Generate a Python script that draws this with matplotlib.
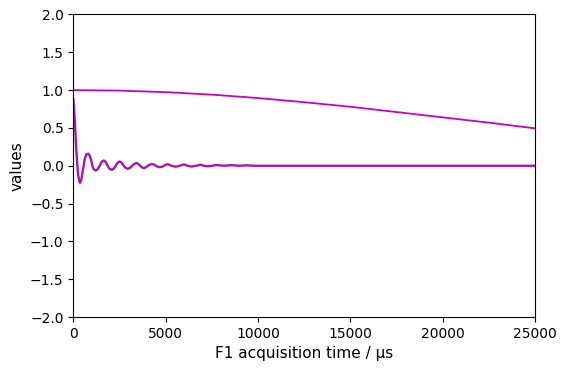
import numpy as np
import matplotlib
matplotlib.use("Agg")
import matplotlib.pyplot as plt

# slow decay curve
t_slow = [0, 2500, 5000, 7500, 10000, 12500, 15000, 17500, 20000, 22500, 25000]
y_slow = [1.0, 0.993, 0.973, 0.940, 0.895, 0.840, 0.780, 0.710, 0.640, 0.570, 0.495]

# damped oscillation
t_osc = [0, 40, 100, 160, 220, 270, 320, 370, 430, 490, 560, 620, 700, 815,
         900, 980, 1030, 1100, 1220, 1320, 1430, 1530, 1650, 1760, 1860,
         1960, 2080, 2190, 2300, 2400, 2516, 2620, 2730, 2840, 2950, 3070,
         3180, 3300, 3420, 3520, 3620, 3710, 3815, 3930, 4040, 4150, 4265,
         4370, 4470, 4580, 4680, 4800, 4910, 5020, 5120, 5330, 5550, 5770,
         5980, 6200, 6410, 6650, 6880, 7080, 7270, 7500, 7750, 8150, 8580,
         9000, 9400, 9800, 10500, 25000]
y_osc = [0.88, 0.76, 0.50, 0.22, 0.0, -0.13, -0.20, -0.225, -0.19, -0.10,
         0.0, 0.09, 0.15, 0.16, 0.13, 0.06, 0.0, -0.045, -0.062, -0.045,
         0.0, 0.05, 0.07, 0.05, 0.0, -0.038, -0.053, -0.038, 0.0, 0.04,
         0.057, 0.04, 0.0, -0.028, -0.04, -0.028, 0.0, 0.025, 0.036, 0.025,
         0.0, -0.021, -0.03, -0.021, 0.0, 0.016, 0.022, 0.016, 0.0, -0.013,
         -0.018, -0.013, 0.0, 0.015, 0.02, 0.0, -0.013, 0.0, 0.018, 0.0,
         -0.01, 0.0, 0.014, 0.0, -0.006, 0.0, 0.01, 0.0, 0.008, 0.0, 0.006,
         0.0, 0.0, 0.0]

fig = plt.figure(figsize=(5.66, 3.74), dpi=100)
ax = fig.add_axes([0.1295, 0.152, 0.8155, 0.8095])

ax.plot(t_slow, y_slow, color="#c800c8", lw=1.3)
ax.plot(t_osc, y_osc, color="#a614b4", lw=1.7)

ax.set_xlim(0, 25000)
ax.set_ylim(-2, 2)
ax.set_xlabel("F1 acquisition time / μs", fontsize=11)
ax.set_ylabel("values", fontsize=11)

fig.savefig("out.png", dpi=100)
